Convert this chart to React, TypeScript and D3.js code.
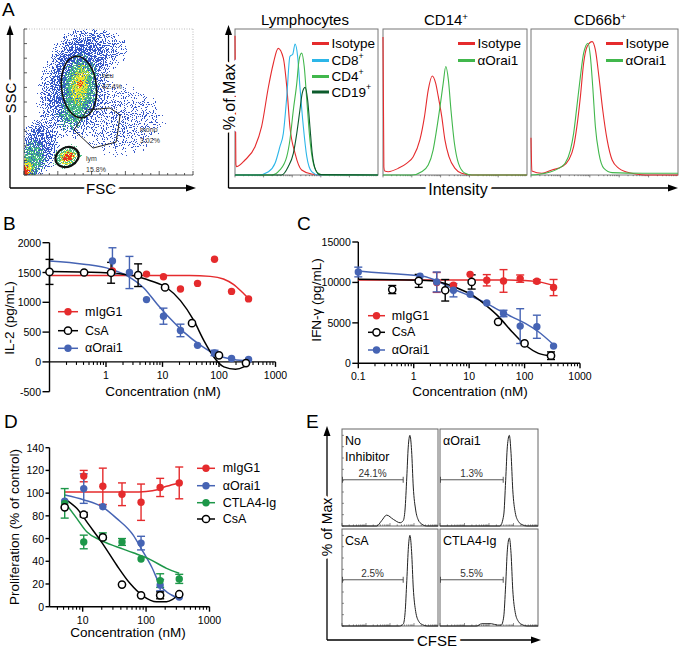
import React from "react";
import * as d3 from "d3";

const FONT = "'Liberation Sans', Arial, Helvetica, sans-serif";

const RED = "#e52b2d";
const BLUE = "#4664b4";
const GREEN = "#1d9749";
const CYAN = "#2cb6e8";
const LGREEN = "#41b74c";
const DGREEN = "#0c5b2c";

/* ---------------- Panel A: FSC / SSC density (channels 0-1024) ---------------- */
// [fsc, ssc, spread fsc, spread ssc, tilt deg, density]
const cloudsBlue = [
  [300, 640, 250, 470, 20, 1.0],
  [90, 200, 150, 230, 0, 0.95],
  [580, 380, 380, 360, 0, 0.55],
  [430, 880, 300, 190, 0, 0.6],
  [40, 60, 90, 90, 0, 1.0],
];
const cloudsGreen = [
  [339, 615, 130, 270, 6, 1.0],
  [285, 420, 100, 140, 0, 0.6],
  [262, 126, 105, 88, -25, 1.0],
  [55, 115, 85, 150, 0, 0.9],
];
const cloudsYellow = [
  [339, 630, 66, 170, 6, 0.95],
  [263, 126, 68, 58, -25, 1.0],
  [18, 50, 45, 80, 0, 1.0],
];
const cloudsRed = [
  [268, 126, 46, 36, -25, 1.0],
  [10, 28, 32, 44, 0, 1.0],
  [339, 640, 22, 60, 6, 0.55],
];
// gates [cx, cy, rx, ry, rot]
const gateNeu = [333, 617, 106, 217, -6];
const gateLym = [261, 126, 73, 67, -25];
const gateMono: [number, number][] = [
  [303, 315], [382, 456], [521, 470], [582, 421], [570, 315], [558, 231], [418, 189],
];
const gateNames = ["neu", "mono", "lym"];
const gatePcts = ["42.4%", "3.02%", "15.8%"];
const gateLabelAt: [number, number][] = [[473, 680], [703, 305], [376, 100]];

/* ---------------- Panel A: histograms (log intensity 0-5, % of max) ---------------- */
const lymIsotype: [number, number][] = [
  [0, 105], [0.03, 8], [0.06, 6.3], [0.35, 11.3], [0.7, 21.3], [0.93, 36.4], [1.17, 66.5],
  [1.34, 84], [1.51, 95.4], [1.69, 88], [1.81, 66.5], [1.92, 36.4], [2.1, 16.3], [2.33, 3.8],
  [2.68, 0.8], [3.0, 0], [5, 0],
];
const lymCD8: [number, number][] = [
  [0, 0], [0.81, 0], [1.17, 2.5], [1.4, 8.8], [1.57, 21.3], [1.69, 31.4], [1.81, 59], [1.92, 89.3],
  [2.02, 91], [2.1, 98.7], [2.19, 89.3], [2.27, 66.5], [2.39, 36.4], [2.51, 13.8], [2.68, 2.5],
  [2.91, 0], [5, 0],
];
const lymCD4: [number, number][] = [
  [0, 0], [1.28, 0], [1.57, 3.8], [1.81, 13.8], [1.92, 26.4], [2.04, 49], [2.16, 69], [2.24, 86.7],
  [2.33, 91.8], [2.42, 81.7], [2.51, 56.5], [2.62, 26.4], [2.74, 8.8], [2.91, 1.3], [3.1, 0], [5, 0],
];
const lymCD19: [number, number][] = [
  [0, 0], [1.63, 0], [1.86, 6.3], [2.04, 16.3], [2.16, 31.4], [2.27, 49], [2.35, 61.5], [2.45, 66],
  [2.54, 56.5], [2.62, 36.4], [2.7, 16.3], [2.82, 3.8], [2.97, 0.3], [5, 0],
];
const cd14Isotype: [number, number][] = [
  [0, 104], [0.03, 6], [0.06, 3], [0.18, 2.5], [0.53, 5], [0.82, 8.8], [1.05, 13.8], [1.28, 26.4],
  [1.44, 44], [1.57, 64], [1.71, 74.6], [1.83, 69], [1.92, 59], [2.04, 44], [2.15, 26.4],
  [2.29, 13.8], [2.5, 5], [2.73, 1.3], [3.08, 0], [5, 0],
];
const cd14Orai1: [number, number][] = [
  [0, 0], [1.0, 0], [1.34, 2.5], [1.57, 7.5], [1.74, 18.8], [1.86, 34], [1.98, 51.5], [2.09, 69],
  [2.18, 81.7], [2.27, 71.7], [2.36, 49], [2.48, 23.9], [2.62, 8.8], [2.85, 1.3], [3.08, 0], [5, 0],
];
const cd66bIsotype: [number, number][] = [
  [0, 28], [0.03, 3], [0.37, 1.3], [0.71, 3.8], [1.05, 6.3], [1.28, 11.3], [1.45, 21.3],
  [1.56, 36.4], [1.68, 59], [1.79, 84.2], [1.91, 96.8], [2.08, 100.5], [2.19, 94.2], [2.31, 74.1],
  [2.44, 49], [2.59, 26.4], [2.76, 11.3], [2.99, 5], [3.22, 2.5], [3.56, 0.8], [3.9, 0], [5, 0],
];
const cd66bOrai1: [number, number][] = [
  [0, 0], [0.48, 1.3], [0.94, 5], [1.16, 8.8], [1.34, 18.8], [1.45, 31.4], [1.56, 51.5],
  [1.68, 74.1], [1.79, 91.8], [1.94, 99.3], [2.02, 89.3], [2.1, 66.5], [2.19, 36.4], [2.31, 16.3],
  [2.48, 5], [2.76, 1.8], [3.79, 1.3], [5, 1.3],
];

/* ---------------- Panel B: IL-2 ---------------- */
const concB_orai1 = [1.3, 2.6, 5.21, 10.4, 20.8, 41.7, 83.3, 166.7, 333.3];
const il2_orai1 = [1695, 1500, 1045, 767, 528, 278, 150, 57, 40];
const il2_orai1_err = [220, 270, 0, 135, 105, 0, 45, 0, 0];
const concB_igg = [1.3, 5.21, 10.4, 20.8, 41.7, 83.3, 166.7, 333.3];
const il2_igg = [1528, 1473, 1428, 1223, 1317, 1723, 1183, 1057];
const concB_csa = [0.1, 0.41, 1.23, 3.7, 11.1, 33.3, 100, 300];
const il2_csa = [1510, 1500, 1495, 1455, 1250, 650, 110, -20];
const il2_csa_err = [210, 0, 175, 190, 0, 0, 0, 0];
const fitB_igg_x = [0.1, 30, 70, 120, 180, 250, 337];
const fitB_igg_y = [1450, 1448, 1435, 1390, 1300, 1180, 1057];
const fitB_csa_x = [0.1, 0.8, 3.1, 6.1, 12.1, 20.8, 35.8, 53.8, 80.9, 121.7, 196, 275, 337];
const fitB_csa_y = [1517, 1500, 1445, 1362, 1240, 1028, 695, 362, 83, -83, -122, -83, -27];
const fitB_orai1_x = [0.1, 0.405, 1.2, 2.37, 4.66, 8.0, 13.8, 23.9, 47.4, 93, 182, 337];
const fitB_orai1_y = [1695, 1640, 1557, 1445, 1240, 973, 723, 500, 278, 112, 40, 17];
const xTicksB = [1, 10, 100, 1000];
const yTicksB = [-500, 0, 500, 1000, 1500, 2000];

/* ---------------- Panel C: IFN-gamma ---------------- */
const concC_orai1 = [0.1, 1.3, 2.6, 5.21, 10.4, 20.8, 41.7, 83.3, 166.7, 333.3];
const ifn_orai1 = [11290, 10760, 10060, 9034, 8540, 7470, 6160, 4600, 4520, 2130];
const ifn_orai1_err = [600, 0, 1230, 820, 0, 0, 400, 2150, 1430, 0];
const concC_igg = [2.6, 5.21, 10.4, 20.8, 41.7, 83.3, 166.7, 333.3];
const ifn_igg = [10000, 9650, 11000, 10267, 10185, 10474, 10144, 9367];
const ifn_igg_err = [1230, 0, 0, 700, 1400, 450, 200, 1000];
const concC_csa = [0.41, 1.23, 3.7, 11.1, 33.3, 100, 300];
const ifn_csa = [9120, 10190, 9030, 10060, 5130, 2460, 940];
const ifn_csa_err = [500, 800, 1330, 880, 0, 0, 470];
const fitC_igg_x = [0.1, 10, 50, 100, 170, 250, 333];
const fitC_igg_y = [10300, 10300, 10290, 10250, 10100, 9850, 9600];
const fitC_orai1_x = [0.1, 0.37, 1.47, 2.9, 5.8, 11.5, 19.9, 34.3, 59.3, 103, 178, 333];
const fitC_orai1_y = [11400, 11090, 10760, 10060, 9030, 8210, 7470, 6570, 5745, 4930, 3900, 2300];
const fitC_csa_x = [0.1, 1.34, 2.9, 5.8, 11.5, 19.9, 34.3, 59.3, 103, 178, 309];
const fitC_csa_y = [10390, 10270, 10060, 9370, 8420, 7190, 5740, 3900, 2260, 1230, 900];
const xTicksC = [0.1, 1, 10, 100, 1000];
const yTicksC = [0, 5000, 10000, 15000];

/* ---------------- Panel D: proliferation ---------------- */
const concD = [5.21, 10.4, 20.8, 41.7, 83.3, 166.7, 333.3];
const concD_igg = [10.4, 20.8, 41.7, 83.3, 166.7, 333.3];
const prol_igg = [115, 106, 99, 92, 105, 109];
const prol_igg_err = [5, 16, 10, 16, 8, 14];
const concD_orai1 = [5.21, 10.4, 20.8, 83.3, 166.7, 333.3];
const prol_orai1 = [93, 104, 88, 56, 19, 8.5];
const prol_orai1_err = [0, 13, 0, 6, 5, 0];
const prol_ctla4 = [91, 57, 62, 57, 42, 23, 24.5];
const prol_ctla4_err = [13, 6, 3, 3, 0, 6, 4];
const prol_csa = [87.5, 81, 61, 19.5, 10, 10, 11];
const prol_csa_err = [0, 2, 0, 0, 0, 3, 0];
const fitD_igg_x = [5.21, 20, 60, 100, 150, 210, 333];
const fitD_igg_y = [101, 101, 101, 101.5, 103, 106, 109];
const fitD_orai1_x = [5.21, 10.5, 20.8, 34.3, 62.7, 83.3, 122, 167, 252, 333];
const fitD_orai1_y = [98.3, 94, 87.5, 77.8, 63, 51.4, 35.2, 19, 10.3, 7.4];
const fitD_ctla4_x = [5.21, 8.07, 11.6, 18.8, 34.3, 62.7, 114.8, 210, 333];
const fitD_ctla4_y = [92, 77.8, 66, 58.7, 52.8, 47.5, 41.7, 33.8, 29.4];
const fitD_csa_x = [5.21, 8.07, 12.6, 20.5, 34.3, 55.6, 90, 146, 210, 262, 333];
const fitD_csa_y = [95, 86.6, 72, 55.8, 36.7, 20.6, 9.4, 4.4, 4.4, 6.5, 11.2];
const xTicksD = [10, 100, 1000];
const yTicksD = [0, 20, 40, 60, 80, 100, 120, 140];

/* ---------------- Panel E: CFSE histograms (log 0-4, % of max) ---------------- */
const cfseNoInhib: [number, number][] = [
  [0, 0], [1.45, 0], [1.65, 5.8], [1.86, 12], [2.14, 7.3], [2.42, 3.6], [2.55, 5.8], [2.625, 17.6],
  [2.7, 54], [2.76, 87], [2.83, 100], [2.9, 83], [2.97, 43], [3.07, 17.6], [3.18, 6.6], [3.32, 2.2],
  [3.53, 0], [4, 0],
];
const cfseOrai1: [number, number][] = [
  [0, 0], [2.45, 0], [2.6, 12], [2.68, 50], [2.75, 88], [2.83, 100], [2.9, 80], [2.97, 40],
  [3.07, 15], [3.2, 5], [3.35, 1.5], [3.55, 0], [4, 0],
];
const cfseCsA: [number, number][] = [
  [0, 0], [2.4, 0], [2.55, 2], [2.63, 15], [2.7, 50], [2.77, 88], [2.83, 100], [2.9, 82],
  [2.97, 42], [3.07, 16], [3.2, 5], [3.35, 1.5], [3.55, 0], [4, 0],
];
const cfseCTLA4: [number, number][] = [
  [0, 0], [1.5, 0], [1.7, 2.5], [2.1, 2.5], [2.35, 1], [2.5, 1], [2.6, 10], [2.68, 45], [2.75, 84],
  [2.83, 97], [2.9, 80], [2.97, 40], [3.07, 15], [3.2, 5], [3.35, 1.5], [3.55, 0], [4, 0],
];
const cfseTitles = [["No", "Inhibitor"], ["\u03b1Orai1"], ["CsA"], ["CTLA4-Ig"]];
const cfsePct = ["24.1%", "1.3%", "2.5%", "5.5%"];
const cfseGateEnd = [2.55, 2.58, 2.55, 2.58];
const cfseGateLevel = [51, 51, 51, 51];

/* =============================== helpers =============================== */
const isMajorLog = (t: number) => Math.abs(Math.log10(t) - Math.round(Math.log10(t))) < 1e-6;

function ErrBar({ x, y0, y1, color }: { x: number; y0: number; y1: number; color: string }) {
  return (
    <g stroke={color} strokeWidth={1.4}>
      <line x1={x} x2={x} y1={y0} y2={y1} />
      <line x1={x - 4} x2={x + 4} y1={y0} y2={y0} />
      <line x1={x - 4} x2={x + 4} y1={y1} y2={y1} />
    </g>
  );
}

function Marker({ x, y, color, open }: { x: number; y: number; color: string; open?: boolean }) {
  return open ? (
    <circle cx={x} cy={y} r={3.6} fill="#fff" stroke="#000" strokeWidth={1.5} />
  ) : (
    <circle cx={x} cy={y} r={3.7} fill={color} />
  );
}

type Series = {
  conc: number[];
  vals: number[];
  errs?: number[];
  color: string;
  open?: boolean;
  fitX: number[];
  fitY: number[];
};

type DoseProps = {
  x: any;
  y: any;
  series: Series[];
  xTicks: number[];
  yTicks: number[];
  yTickLen: number;
  xAxisAt: number;
  xTitle: [number, number];
  yTitle: [number, number];
  yTitleText: string;
  minorMin: number;
  legend: { label: string; color: string; open?: boolean }[];
  legendRows: number[];
  legendX: [number, number, number];
};

function DosePanel(p: DoseProps) {
  const [x0, x1] = p.x.range();
  const [yb, yt] = p.y.range();
  const ya = p.y(p.xAxisAt);
  const minors = p.x.ticks().filter((t: number) => !isMajorLog(t) && t >= p.minorMin);
  const majors = p.xTicks;
  const line = (xs: number[], ys: number[]) =>
    d3
      .line<[number, number]>()
      .x((d) => p.x(d[0]))
      .y((d) => p.y(d[1]))
      .curve(d3.curveMonotoneX)(d3.zip(xs, ys) as [number, number][]) || "";
  return (
    <g fontFamily={FONT}>
      <g stroke="#000" strokeWidth={1.4} fill="none">
        <line x1={x0} x2={x0} y1={yb} y2={yt} />
        <line x1={x0} x2={x1} y1={ya} y2={ya} />
        {p.yTicks.map((t) => (
          <line key={t} x1={x0 - p.yTickLen} x2={x0} y1={p.y(t)} y2={p.y(t)} />
        ))}
        {majors.map((t) => (
          <line key={t} x1={p.x(t)} x2={p.x(t)} y1={ya} y2={ya + 5} />
        ))}
        {minors.map((t: number, i: number) => (
          <line key={"m" + i} x1={p.x(t)} x2={p.x(t)} y1={ya} y2={ya + 3} strokeWidth={1.1} />
        ))}
      </g>
      <g fontSize={10.5} fill="#000">
        {p.yTicks.map((t) => (
          <text key={t} x={x0 - p.yTickLen - 1.5} y={p.y(t)} textAnchor="end" dominantBaseline="central">
            {String(t)}
          </text>
        ))}
        {majors.map((t) => (
          <text key={t} x={p.x(t)} y={ya + 17} textAnchor="middle">
            {String(t)}
          </text>
        ))}
      </g>
      <text x={p.xTitle[0]} y={p.xTitle[1]} textAnchor="middle" fontSize={13.5}>
        Concentration (nM)
      </text>
      <text
        transform={`translate(${p.yTitle[0]},${p.yTitle[1]}) rotate(-90)`}
        textAnchor="middle"
        dominantBaseline="central"
        fontSize={13.5}
      >
        {p.yTitleText}
      </text>
      {p.series.map((s, i) => (
        <path key={"f" + i} d={line(s.fitX, s.fitY)} fill="none" stroke={s.open ? "#000" : s.color} strokeWidth={1.5} />
      ))}
      {p.series.map((s, i) =>
        s.errs
          ? s.conc.map((c, j) =>
              s.errs![j] > 0 ? (
                <ErrBar
                  key={"e" + i + "-" + j}
                  x={p.x(c)}
                  y0={p.y(s.vals[j] + s.errs![j])}
                  y1={p.y(s.vals[j] - s.errs![j])}
                  color={s.open ? "#000" : s.color}
                />
              ) : null
            )
          : null
      )}
      {p.series.map((s, i) =>
        s.conc.map((c, j) => <Marker key={"p" + i + "-" + j} x={p.x(c)} y={p.y(s.vals[j])} color={s.color} open={s.open} />)
      )}
      {p.legend.map((l, i) => (
        <g key={"l" + i}>
          <line x1={p.legendX[0]} x2={p.legendX[1]} y1={p.legendRows[i]} y2={p.legendRows[i]} stroke={l.open ? "#000" : l.color} strokeWidth={1.5} />
          <Marker x={(p.legendX[0] + p.legendX[1]) / 2} y={p.legendRows[i]} color={l.color} open={l.open} />
          <text x={p.legendX[2]} y={p.legendRows[i]} dominantBaseline="central" fontSize={12.5}>
            {l.label}
          </text>
        </g>
      ))}
    </g>
  );
}

/* =============================== Panel A =============================== */
function PanelAScatter() {
  const fx = d3.scaleLinear().domain([0, 1024]).range([24, 193]);
  const fy = d3.scaleLinear().domain([0, 1024]).range([175, 29]);
  const kx = (193 - 24) / 1024;
  const ky = (175 - 29) / 1024;
  const layers = [
    { id: "spB", data: cloudsBlue, color: "#3557c9", seed: 3, bias: -0.72 },
    { id: "spG", data: cloudsGreen, color: "#4cbd84", seed: 7, bias: -0.6 },
    { id: "spY", data: cloudsYellow, color: "#ece430", seed: 11, bias: -0.6 },
    { id: "spR", data: cloudsRed, color: "#e8321e", seed: 17, bias: -0.56 },
  ];
  const ell = (g: number[], sw: number) => {
    const cx = fx(g[0]);
    const cy = fy(g[1]);
    return (
      <ellipse cx={cx} cy={cy} rx={g[2] * kx} ry={g[3] * ky} transform={`rotate(${g[4]} ${cx} ${cy})`} fill="none" stroke="#111" strokeWidth={sw} />
    );
  };
  const lowTicks = d3.range(0, 1025, 51.2);
  const leftTicks = d3.range(0, 1025, 102.4);
  return (
    <g>
      <defs>
        {layers.map((l) => (
          <React.Fragment key={l.id}>
            <radialGradient id={l.id + "g"}>
              <stop offset="0" stopColor="#000" stopOpacity={1} />
              <stop offset="0.5" stopColor="#000" stopOpacity={0.78} />
              <stop offset="1" stopColor="#000" stopOpacity={0} />
            </radialGradient>
            <filter id={l.id} filterUnits="userSpaceOnUse" x={24} y={29} width={169} height={146} colorInterpolationFilters="sRGB">
              <feTurbulence type="fractalNoise" baseFrequency={0.9} numOctaves={1} seed={l.seed} result="n" />
              <feColorMatrix in="n" type="matrix" values="0 0 0 0 0 0 0 0 0 0 0 0 0 0 0 1 0 0 0 0" result="r" />
              <feComponentTransfer in="r" result="na">
                <feFuncA type="table" tableValues="0 0 0 0.1 0.5 0.9 1 1 1" />
              </feComponentTransfer>
              <feComposite in="SourceAlpha" in2="na" operator="arithmetic" k1={0} k2={1} k3={1} k4={l.bias} result="m" />
              <feComponentTransfer in="m" result="mt">
                <feFuncA type="discrete" tableValues="0 0 1 1" />
              </feComponentTransfer>
              <feFlood floodColor={l.color} result="f" />
              <feComposite in="f" in2="mt" operator="in" />
            </filter>
          </React.Fragment>
        ))}
      </defs>
      {layers.map((l) => (
        <g key={l.id} filter={`url(#${l.id})`}>
          {l.data.map((c, i) => (
            <ellipse
              key={i}
              cx={fx(c[0])}
              cy={fy(c[1])}
              rx={c[2] * kx}
              ry={c[3] * ky}
              fill={`url(#${l.id}g)`}
              fillOpacity={c[5]}
              transform={`rotate(${c[4]} ${fx(c[0])} ${fy(c[1])})`}
            />
          ))}
        </g>
      ))}
      <g stroke="#aaa" strokeWidth={0.8} strokeDasharray="1 1.5">
        <line x1={24} x2={193} y1={29} y2={29} />
        <line x1={193} x2={193} y1={29} y2={175} />
      </g>
      <g stroke="#333" strokeWidth={0.8}>
        <line x1={24} x2={24} y1={29} y2={175} />
        <line x1={24} x2={193} y1={175} y2={175} />
        {leftTicks.map((t, i) => (
          <line key={"l" + i} x1={24} x2={27} y1={fy(t)} y2={fy(t)} />
        ))}
        {lowTicks.map((t, i) => (
          <line key={"b" + i} x1={fx(t)} x2={fx(t)} y1={175} y2={i % 4 === 0 ? 171 : 173} />
        ))}
      </g>
      {ell(gateNeu, 1.6)}
      {ell(gateLym, 2.2)}
      <polygon points={gateMono.map((d) => `${fx(d[0])},${fy(d[1])}`).join(" ")} fill="none" stroke="#222" strokeWidth={1} />
      <g fontSize={7} fill="#333" fontFamily={FONT}>
        {gateNames.map((n, i) => (
          <g key={n}>
            <text x={fx(gateLabelAt[i][0])} y={fy(gateLabelAt[i][1])}>{n}</text>
            <text x={fx(gateLabelAt[i][0])} y={fy(gateLabelAt[i][1]) + 11}>{gatePcts[i]}</text>
          </g>
        ))}
      </g>
      <g stroke="#000" strokeWidth={1.3}>
        <line x1={10} x2={10} y1={188} y2={32} />
        <line x1={10} x2={188} y1={188} y2={188} />
      </g>
      <polygon points="10,25 6.5,35 13.5,35" fill="#000" />
      <polygon points="196,188 186,184.5 186,191.5" fill="#000" />
      <text
        transform="translate(10,98) rotate(-90)"
        textAnchor="middle"
        dominantBaseline="central"
        fontSize={15}
        fontFamily={FONT}
        stroke="#fff"
        strokeWidth={6}
        paintOrder="stroke"
      >
        SSC
      </text>
      <text x={101} y={188} textAnchor="middle" dominantBaseline="central" fontSize={15} fontFamily={FONT} stroke="#fff" strokeWidth={6} paintOrder="stroke">
        FSC
      </text>
      <text x={2} y={16} fontSize={19} fontFamily={FONT}>A</text>
    </g>
  );
}

function Sup({ base, sup }: { base: string; sup: string }) {
  return (
    <>
      {base}
      {sup ? <tspan fontSize="0.65em" dy={-5}>{sup}</tspan> : null}
    </>
  );
}

function PanelAHist() {
  const y = d3.scaleLinear().domain([0, 110]).range([175, 29]);
  const boxes = [
    {
      x0: 235, x1: 378, title: <Sup base="Lymphocytes" sup="" />, tx: 305,
      curves: [[lymIsotype, RED], [lymCD8, CYAN], [lymCD4, LGREEN], [lymCD19, DGREEN]] as [[number, number][], string][],
      legend: [["Isotype", "", RED], ["CD8", "+", CYAN], ["CD4", "+", LGREEN], ["CD19", "+", DGREEN]],
      lx: 312,
    },
    {
      x0: 383, x1: 527, title: <Sup base="CD14" sup="+" />, tx: 446,
      curves: [[cd14Isotype, RED], [cd14Orai1, LGREEN]] as [[number, number][], string][],
      legend: [["Isotype", "", RED], ["\u03b1Orai1", "", LGREEN]],
      lx: 458,
    },
    {
      x0: 531, x1: 678, title: <Sup base="CD66b" sup="+" />, tx: 600,
      curves: [[cd66bIsotype, RED], [cd66bOrai1, LGREEN]] as [[number, number][], string][],
      legend: [["Isotype", "", RED], ["\u03b1Orai1", "", LGREEN]],
      lx: 606,
    },
  ];
  const legendRows = [43.5, 60.5, 76.5, 92];
  return (
    <g fontFamily={FONT}>
      {boxes.map((b, bi) => {
        const x = d3.scaleLinear().domain([0, 5]).range([b.x0, b.x1]);
        const line = d3
          .line<[number, number]>()
          .x((d) => x(d[0]))
          .y((d) => y(d[1]))
          .curve(d3.curveMonotoneX);
        const ticks: [number, number][] = [];
        for (let dec = 0; dec < 5; dec++) for (let k = 1; k <= 9; k++) ticks.push([dec + Math.log10(k), k === 1 ? 4 : 2]);
        return (
          <g key={bi}>
            <rect x={b.x0} y={29} width={b.x1 - b.x0} height={146} fill="none" stroke="#777" strokeWidth={1} />
            <g stroke="#555" strokeWidth={0.7}>
              {ticks.map((t, i) => (
                <line key={i} x1={x(t[0])} x2={x(t[0])} y1={175} y2={175 + t[1] * 0.6} />
              ))}
            </g>
            {b.curves.map((c, i) => (
              <path key={i} d={line(c[0]) || ""} fill="none" stroke={c[1]} strokeWidth={1.1} />
            ))}
            <text x={b.tx} y={25} textAnchor="middle" fontSize={15}>
              {b.title}
            </text>
            {b.legend.map((l, i) => (
              <g key={"lg" + i}>
                <line x1={b.lx} x2={b.lx + 17} y1={legendRows[i]} y2={legendRows[i]} stroke={l[2]} strokeWidth={3} />
                <text x={b.lx + 19.5} y={legendRows[i]} dominantBaseline="central" fontSize={13.5}>
                  <Sup base={l[0]} sup={l[1]} />
                </text>
              </g>
            ))}
          </g>
        );
      })}
      <g stroke="#000" strokeWidth={1.3}>
        <line x1={228.5} x2={228.5} y1={188} y2={32} />
        <line x1={228.5} x2={670} y1={188} y2={188} />
      </g>
      <polygon points="228.5,25 225,35 232,35" fill="#000" />
      <polygon points="678,188 668,184.5 668,191.5" fill="#000" />
      <text
        transform="translate(229,97) rotate(-90)"
        textAnchor="middle"
        dominantBaseline="central"
        fontSize={16}
        stroke="#fff"
        strokeWidth={6}
        paintOrder="stroke"
      >
        % of Max
      </text>
      <text x={458} y={189} textAnchor="middle" dominantBaseline="central" fontSize={16} stroke="#fff" strokeWidth={8} paintOrder="stroke">
        Intensity
      </text>
    </g>
  );
}

/* =============================== Panels B, C, D =============================== */
function PanelB() {
  const x = d3.scaleLog().domain([0.1, 1000]).range([49.5, 275.5]);
  const y = d3.scaleLinear().domain([-500, 2000]).range([391.7, 242.7]);
  const series: Series[] = [
    { conc: concB_igg, vals: il2_igg, color: RED, fitX: fitB_igg_x, fitY: fitB_igg_y },
    { conc: concB_orai1, vals: il2_orai1, errs: il2_orai1_err, color: BLUE, fitX: fitB_orai1_x, fitY: fitB_orai1_y },
    { conc: concB_csa, vals: il2_csa, errs: il2_csa_err, color: "#000", open: true, fitX: fitB_csa_x, fitY: fitB_csa_y },
  ];
  return (
    <g>
      <text x={3} y={230} fontSize={19} fontFamily={FONT}>B</text>
      <DosePanel
        x={x}
        y={y}
        series={series}
        xTicks={xTicksB}
        yTicks={yTicksB}
        yTickLen={7}
        xAxisAt={0}
        xTitle={[163, 396]}
        yTitle={[9, 318]}
        yTitleText="IL-2 (pg/mL)"
        minorMin={0.15}
        legend={[
          { label: "mIgG1", color: RED },
          { label: "CsA", color: "#000", open: true },
          { label: "\u03b1Orai1", color: BLUE },
        ]}
        legendRows={[311.7, 330.7, 348.3]}
        legendX={[58, 78, 85]}
      />
    </g>
  );
}

function PanelC() {
  const x = d3.scaleLog().domain([0.1, 1000]).range([358.3, 580]);
  const y = d3.scaleLinear().domain([0, 15000]).range([363.3, 242]);
  const series: Series[] = [
    { conc: concC_igg, vals: ifn_igg, errs: ifn_igg_err, color: RED, fitX: fitC_igg_x, fitY: fitC_igg_y },
    { conc: concC_orai1, vals: ifn_orai1, errs: ifn_orai1_err, color: BLUE, fitX: fitC_orai1_x, fitY: fitC_orai1_y },
    { conc: concC_csa, vals: ifn_csa, errs: ifn_csa_err, color: "#000", open: true, fitX: fitC_csa_x, fitY: fitC_csa_y },
  ];
  return (
    <g>
      <text x={297} y={230} fontSize={19} fontFamily={FONT}>C</text>
      <DosePanel
        x={x}
        y={y}
        series={series}
        xTicks={xTicksC}
        yTicks={yTicksC}
        yTickLen={6}
        xAxisAt={0}
        xTitle={[470, 396]}
        yTitle={[316, 300]}
        yTitleText={"IFN-\u03b3 (pg/mL)"}
        minorMin={0.15}
        legend={[
          { label: "mIgG1", color: RED },
          { label: "CsA", color: "#000", open: true },
          { label: "\u03b1Orai1", color: BLUE },
        ]}
        legendRows={[315.7, 332.3, 350]}
        legendX={[368, 385, 391.7]}
      />
    </g>
  );
}

function PanelD() {
  const x = d3.scaleLog().domain([3, 1000]).range([49.5, 209.5]);
  const y = d3.scaleLinear().domain([0, 140]).range([606.7, 447.7]);
  const series: Series[] = [
    { conc: concD_igg, vals: prol_igg, errs: prol_igg_err, color: RED, fitX: fitD_igg_x, fitY: fitD_igg_y },
    { conc: concD_orai1, vals: prol_orai1, errs: prol_orai1_err, color: BLUE, fitX: fitD_orai1_x, fitY: fitD_orai1_y },
    { conc: concD, vals: prol_ctla4, errs: prol_ctla4_err, color: GREEN, fitX: fitD_ctla4_x, fitY: fitD_ctla4_y },
    { conc: concD, vals: prol_csa, errs: prol_csa_err, color: "#000", open: true, fitX: fitD_csa_x, fitY: fitD_csa_y },
  ];
  return (
    <g>
      <text x={4} y={428} fontSize={19} fontFamily={FONT}>D</text>
      <DosePanel
        x={x}
        y={y}
        series={series}
        xTicks={xTicksD}
        yTicks={yTicksD}
        yTickLen={4}
        xAxisAt={0}
        xTitle={[128, 637]}
        yTitle={[14, 527]}
        yTitleText="Proliferation (% of control)"
        minorMin={3.5}
        legend={[
          { label: "mIgG1", color: RED },
          { label: "\u03b1Orai1", color: BLUE },
          { label: "CTLA4-Ig", color: GREEN },
          { label: "CsA", color: "#000", open: true },
        ]}
        legendRows={[468.3, 485.7, 502.7, 519]}
        legendX={[197, 215, 222.7]}
      />
    </g>
  );
}

/* =============================== Panel E =============================== */
function PanelE() {
  const boxes = [
    { x0: 342, x1: 438, y0: 429, y1: 526, data: cfseNoInhib },
    { x0: 440, x1: 538, y0: 429, y1: 526, data: cfseOrai1 },
    { x0: 342, x1: 438, y0: 529, y1: 626, data: cfseCsA },
    { x0: 440, x1: 538, y0: 529, y1: 626, data: cfseCTLA4 },
  ];
  return (
    <g fontFamily={FONT}>
      <text x={306} y={428} fontSize={19}>E</text>
      {boxes.map((b, i) => {
        const x = d3.scaleLinear().domain([0, 4]).range([b.x0, b.x1]);
        const y = d3.scaleLinear().domain([0, 107]).range([b.y1, b.y0]);
        const line = d3
          .line<[number, number]>()
          .x((d) => x(d[0]))
          .y((d) => y(d[1]))
          .curve(d3.curveMonotoneX);
        const gy = y(cfseGateLevel[i]);
        const gx0 = x(0);
        const gx1 = x(cfseGateEnd[i]);
        const ticks: [number, number][] = [];
        for (let dec = 0; dec < 4; dec++) for (let k = 1; k <= 9; k++) ticks.push([dec + Math.log10(k), k === 1 ? 3 : 1.6]);
        return (
          <g key={i}>
            <rect x={b.x0} y={b.y0} width={b.x1 - b.x0} height={b.y1 - b.y0} fill="none" stroke="#666" strokeWidth={1} />
            <g stroke="#444" strokeWidth={0.6}>
              {ticks.map((t, j) => (
                <line key={j} x1={x(t[0])} x2={x(t[0])} y1={b.y1} y2={b.y1 - t[1]} />
              ))}
              {i % 2 === 0
                ? d3.range(0, 101, 12.5).map((v, j) => <line key={"l" + j} x1={b.x0} x2={b.x0 + 2} y1={y(v)} y2={y(v)} />)
                : null}
            </g>
            <path d={line(b.data) || ""} fill="none" stroke="#222" strokeWidth={1} />
            <g stroke="#444" strokeWidth={0.9}>
              <line x1={gx0} x2={gx1} y1={gy} y2={gy} />
              <line x1={gx0 + 0.5} x2={gx0 + 0.5} y1={gy - 3} y2={gy + 3} />
              <line x1={gx1} x2={gx1} y1={gy - 3} y2={gy + 3} />
            </g>
            <text x={(gx0 + gx1) / 2} y={gy - 3} textAnchor="middle" fontSize={10} fill="#333">
              {cfsePct[i]}
            </text>
            {cfseTitles[i].map((t, j) => (
              <text key={j} x={b.x0 + 3} y={b.y0 + 16 + j * 16} fontSize={12.5}>
                {t}
              </text>
            ))}
          </g>
        );
      })}
      <g stroke="#000" strokeWidth={1.3}>
        <line x1={327} x2={327} y1={640} y2={432} />
        <line x1={327} x2={533} y1={640} y2={640} />
      </g>
      <polygon points="327,426 323.5,436 330.5,436" fill="#000" />
      <polygon points="541,640 531,636.5 531,643.5" fill="#000" />
      <text
        transform="translate(327,527) rotate(-90)"
        textAnchor="middle"
        dominantBaseline="central"
        fontSize={14}
        stroke="#fff"
        strokeWidth={6}
        paintOrder="stroke"
      >
        % of Max
      </text>
      <text x={437} y={640} textAnchor="middle" dominantBaseline="central" fontSize={15} stroke="#fff" strokeWidth={8} paintOrder="stroke">
        CFSE
      </text>
    </g>
  );
}

export default function App() {
  return (
    <svg
      width={680}
      height={649}
      viewBox="0 0 680 649"
      style={{ position: "absolute", left: 0, top: 0, background: "#fff" }}
      fontFamily={FONT}
    >
      <rect width={680} height={649} fill="#fff" />
      <PanelAScatter />
      <PanelAHist />
      <PanelB />
      <PanelC />
      <PanelD />
      <PanelE />
    </svg>
  );
}
